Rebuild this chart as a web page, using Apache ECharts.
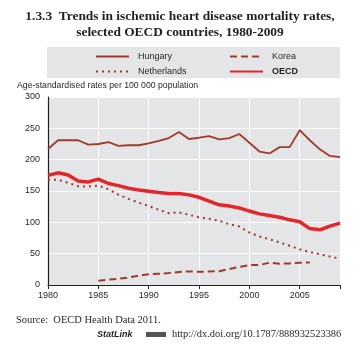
<!DOCTYPE html>
<html><head><meta charset="utf-8">
<script src="https://cdn.jsdelivr.net/npm/echarts@6/dist/echarts.min.js"></script>
<style>html,body{margin:0;padding:0;background:#fff}#c{width:363px;height:349px}</style>
</head><body><div id="c"></div>
<script>
const years = [];
for (let y = 1980; y <= 2009; y++) years.push(String(y));
const hungary = [217,231,231,231,224,225,228,222,223,223,226,230,234.5,244,233,235,237.5,232.5,234.5,241,227,213,210,220,220,247,231,216.5,206,204];
const korea = [null,null,null,null,null,6.8,8.5,10,12,15,17,18,19,20.7,21.7,21,21.5,22,25.5,28.7,31.8,32,35.5,34,34.4,35.5,36,null,null,null];
const netherlands = [167.7,168,163,157.6,157,158.6,153,144,137.4,131.5,126,120,114.6,116,112,108,105.6,102.4,97,93.3,83.8,77.4,73,68,62.6,57,52.5,49,45.5,42];
const oecd = [175,179,175.6,166,164.5,169,162,158.6,154.5,151.7,149.6,147.5,146,146,143.8,140,134,128,126,123,118,113.5,111,108,104,101,90,88,94,98.7];
const yTicks = [0,50,100,150,200,250,300];

const brown = '#a23a2c';
const red = '#e4252b';
const chart = echarts.init(document.getElementById('c'), null, {renderer:'canvas'});
const narrow = '"Liberation Sans Narrow","Liberation Sans",Arial,sans-serif';
const legendCommon = {orient:'vertical', top:52, padding:0, itemWidth:33, itemHeight:9, itemGap:6,
  itemStyle:{opacity:0, borderWidth:0}};
chart.setOption({
  animation:false,
  graphic:[
    {type:'text', x:180, y:9, style:{text:'1.3.3  Trends in ischemic heart disease mortality rates,\nselected OECD countries, 1980-2009', font:'bold 13.4px "Liberation Serif", serif', fill:'#231f20', textAlign:'center', lineHeight:16}},
    {type:'rect', shape:{x:47,y:47,width:293,height:31}, style:{fill:'#e4e5e7'}, z:-1},
    {type:'text', x:17, y:81, style:{text:'Age-standardised rates per 100 000 population', font:'8.7px '+narrow, fill:'#231f20'}},
    {type:'text', x:16, y:315, style:{text:'Source:  OECD Health Data 2011.', font:'10.5px "Liberation Serif", serif', fill:'#231f20'}},
    {type:'text', x:97, y:330, style:{text:'StatLink', font:'italic bold 9px "Liberation Sans", sans-serif', fill:'#231f20'}},
    {type:'rect', shape:{x:146,y:332,width:20,height:5}, style:{fill:'#555'}},
    {type:'text', x:172, y:329, style:{text:'http://dx.doi.org/10.1787/888932523386', font:'10.4px "Liberation Serif", serif', fill:'#231f20'}}
  ],
  legend:[
    Object.assign({}, legendCommon, {data:['Hungary','Netherlands'], left:95,
     textStyle:{fontSize:9, fontFamily:narrow, color:'#231f20', padding:[0,0,0,4]}}),
    Object.assign({}, legendCommon, {data:['Korea','OECD'], left:229,
     formatter: n => n==='OECD' ? '{b|OECD}' : n,
     textStyle:{fontSize:9, fontFamily:narrow, color:'#231f20', padding:[0,0,0,4], rich:{b:{fontWeight:'bold', fontSize:9, fontFamily:narrow}}}})
  ],
  grid:{left:48, right:23, top:97, bottom:64, show:true, backgroundColor:'#e4e5e7', borderWidth:0},
  xAxis:{type:'category', data:years, boundaryGap:false,
    axisLine:{lineStyle:{color:'#231f20', width:1.2}},
    axisTick:{show:true, length:4, lineStyle:{color:'#231f20'}, interval:(i)=> i%5===0 || i===29},
    axisLabel:{interval:(i)=> i%5===0, color:'#231f20', fontSize:9, fontFamily:narrow, margin:6},
    splitLine:{show:true, interval:(i)=> i%5===0 && i>0, lineStyle:{color:'#fff', width:1}}
  },
  yAxis:{type:'value', min:0, max:300, interval:50,
    axisLine:{show:true, lineStyle:{color:'#231f20', width:1.2}},
    axisTick:{show:false},
    axisLabel:{color:'#231f20', fontSize:9, fontFamily:narrow, margin:8},
    splitLine:{show:true, lineStyle:{color:'#fff', width:1}}
  },
  series:[
    {name:'Hungary', type:'line', data:hungary, symbol:'none', lineStyle:{color:brown, width:1.8}, itemStyle:{color:brown}},
    {name:'Korea', type:'line', data:korea, symbol:'none', lineStyle:{color:brown, width:2, type:[7,4]}, itemStyle:{color:brown}},
    {name:'Netherlands', type:'line', data:netherlands, symbol:'none', lineStyle:{color:brown, width:2, type:[2,4]}, itemStyle:{color:brown}},
    {name:'OECD', type:'line', data:oecd, symbol:'none', lineStyle:{color:red, width:3.5}, itemStyle:{color:red}, z:5}
  ]
});
</script></body></html>
